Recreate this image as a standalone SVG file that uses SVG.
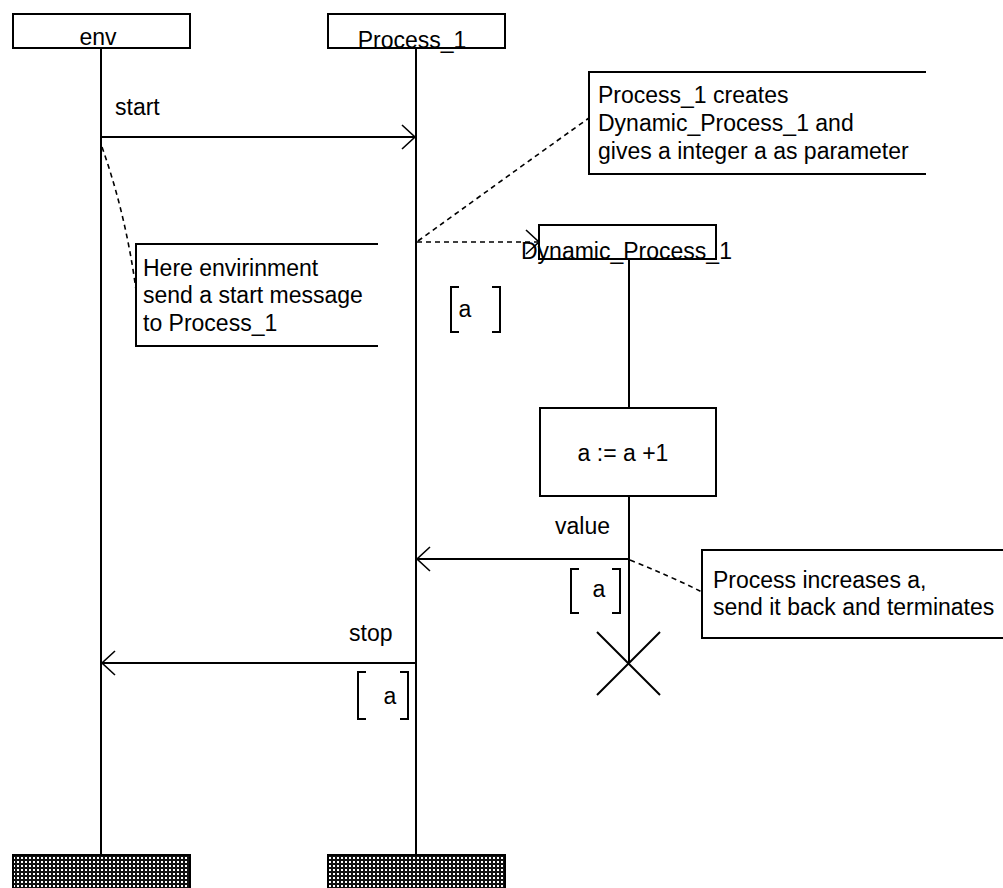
<svg xmlns="http://www.w3.org/2000/svg" width="1003" height="888" viewBox="0 0 1003 888">
<style>
text{font-family:"Liberation Sans",Arial,sans-serif;font-size:23px;fill:#000}
.box{fill:#fff;stroke:#000;stroke-width:2}
.life{stroke:#000;stroke-width:2;fill:none}
.msg{stroke:#000;stroke-width:2;fill:none}
.dash{stroke:#000;stroke-width:1.6;fill:none;stroke-dasharray:5 4}
.note{stroke:#000;stroke-width:2;fill:none}
.br{stroke:#000;stroke-width:2;fill:none}
.term{fill:url(#hatch);stroke:#000;stroke-width:2}
</style>
<defs>
<marker id="open" markerUnits="userSpaceOnUse" markerWidth="30" markerHeight="30" viewBox="-15 -15 30 30" refX="0" refY="0" orient="auto">
<path d="M -13 -12 L 0 0 L -13 12" fill="none" stroke="#000" stroke-width="1.6"/>
</marker>
<pattern id="hatch" width="4" height="4" patternUnits="userSpaceOnUse">
<rect width="4" height="4" fill="#111"/>
<rect x="1" y="1" width="2" height="2" fill="#fff"/>
</pattern>
</defs>
<rect width="1003" height="888" fill="#fff"/>

<g id="env">
<line class="life" x1="101" y1="48" x2="101" y2="855"/>
<rect class="box" x="13" y="14" width="177" height="34"/>
<text x="98" y="45" text-anchor="middle">env</text>
<rect class="term" x="13" y="855" width="177" height="40"/>
</g>

<g id="process_1">
<line class="life" x1="416" y1="48" x2="416" y2="855"/>
<rect class="box" x="328" y="14" width="177" height="34" fill="none"/>
<text x="412" y="47.5" text-anchor="middle">Process_1</text>
<line class="life" x1="327" y1="48" x2="506" y2="48"/>
<rect class="term" x="328" y="855" width="177" height="40"/>
</g>

<g id="dynamic_process_1">
<line class="life" x1="629" y1="259" x2="629" y2="663"/>
<rect class="box" x="539" y="225" width="177" height="34"/>
<text x="521" y="258.5">Dynamic_Process_1</text>
<line class="life" x1="538" y1="259" x2="717" y2="259"/>
<path class="life" d="M 597 632 L 660 695 M 660 632 L 597 695"/>
</g>

<g id="action">
<rect class="box" x="540" y="408" width="176" height="88"/>
<text x="623" y="461" text-anchor="middle">a := a +1</text>
</g>

<g id="note_env">
<path class="note" d="M 378 244 H 136 V 346 H 378"/>
<text x="143" y="276">Here envirinment</text>
<text x="143" y="303">send a start message</text>
<text x="143" y="331">to Process_1</text>
</g>

<g id="note_create">
<path class="note" d="M 926 72 H 589 V 174 H 926"/>
<text x="598" y="103">Process_1 creates</text>
<text x="598" y="131">Dynamic_Process_1 and</text>
<text x="598" y="159">gives a integer a as parameter</text>
</g>

<g id="note_increase">
<path class="note" d="M 1004 550 H 702 V 638 H 1004"/>
<text x="713" y="588">Process increases a,</text>
<text x="713" y="615">send it back and terminates</text>
</g>

<g id="params">
<path class="br" d="M 459 287 H 451 V 332 H 459 M 492 287 H 500 V 332 H 492"/>
<text x="465" y="317" text-anchor="middle">a</text>
<path class="br" d="M 579 569 H 571 V 613 H 579 M 612 569 H 620 V 613 H 612"/>
<text x="599" y="597" text-anchor="middle">a</text>
<path class="br" d="M 366 672 H 358 V 719 H 366 M 400 672 H 408 V 719 H 400"/>
<text x="390" y="704" text-anchor="middle">a</text>
</g>

<g id="connectors">
<line class="msg" x1="101" y1="137" x2="415" y2="137" marker-end="url(#open)"/>
<text x="115" y="115">start</text>
<line class="msg" x1="629" y1="559" x2="417" y2="559" marker-end="url(#open)"/>
<text x="555" y="534">value</text>
<line class="msg" x1="416" y1="663" x2="102" y2="663" marker-end="url(#open)"/>
<text x="349" y="641">stop</text>
<line class="dash" x1="417" y1="242" x2="539" y2="242" marker-end="url(#open)"/>
<path class="dash" d="M 418 241 Q 530 160 589 118"/>
<path class="dash" d="M 102 147 Q 126 215 136 290"/>
<path class="dash" d="M 630 560 Q 670 576 702 592"/>
</g>
</svg>
